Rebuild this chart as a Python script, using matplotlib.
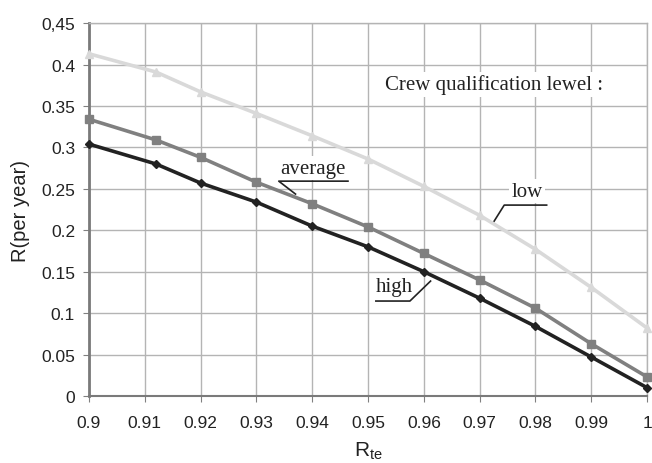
import matplotlib
matplotlib.use("Agg")
import matplotlib.pyplot as plt

# R_te values (second point sits slightly right of 0.91 in the source)
r_te = [0.9, 0.912, 0.92, 0.93, 0.94, 0.95, 0.96, 0.97, 0.98, 0.99, 1.0]

# R (per year) by crew qualification level
low = [0.413, 0.391, 0.367, 0.341, 0.314, 0.286, 0.253, 0.218, 0.177, 0.131, 0.082]
average = [0.334, 0.309, 0.288, 0.258, 0.232, 0.204, 0.172, 0.140, 0.106, 0.063, 0.023]
high = [0.304, 0.280, 0.257, 0.234, 0.205, 0.180, 0.150, 0.118, 0.084, 0.047, 0.010]

x_ticks = [0.9, 0.91, 0.92, 0.93, 0.94, 0.95, 0.96, 0.97, 0.98, 0.99, 1.0]
x_labels = ["0.9", "0.91", "0.92", "0.93", "0.94", "0.95", "0.96", "0.97", "0.98", "0.99", "1"]
y_ticks = [0, 0.05, 0.1, 0.15, 0.2, 0.25, 0.3, 0.35, 0.4, 0.45]
y_labels = ["0", "0.05", "0.1", "0.15", "0.2", "0.25", "0.3", "0.35", "0.4", "0,45"]

sans = "Liberation Sans"
serif = "Liberation Serif"

fig = plt.figure(figsize=(6.52, 4.64), dpi=100)
ax = fig.add_axes([0.1365, 0.1444, 0.856, 0.8036])

ax.plot(r_te, low, color="#d9d9d9", lw=2.6, marker="^", ms=6, zorder=3, clip_on=False)
ax.plot(r_te, average, color="#808080", lw=2.6, marker="s", ms=6, zorder=4, clip_on=False)
ax.plot(r_te, high, color="#222222", lw=2.6, marker="D", ms=4.5, zorder=5, clip_on=False)

ax.set_xlim(0.9, 1.0)
ax.set_ylim(0, 0.45)
ax.set_xticks(x_ticks)
ax.set_xticklabels(x_labels, fontfamily=sans, fontsize=12.5, color="#222222")
ax.set_yticks(y_ticks)
ax.set_yticklabels(y_labels, fontfamily=sans, fontsize=12.5, color="#222222")
ax.tick_params(direction="out", length=4, color="#808080")
ax.tick_params(axis="x", pad=10)
ax.tick_params(axis="y", pad=6)
ax.grid(True, color="#b4b4b4", lw=1)
ax.set_axisbelow(True)
for side in ["top", "right"]:
    ax.spines[side].set_color("#b4b4b4")
    ax.spines[side].set_linewidth(1)
ax.spines["left"].set_color("#7a7a7a")
ax.spines["left"].set_linewidth(2)
ax.spines["bottom"].set_color("#7a7a7a")
ax.spines["bottom"].set_linewidth(1.5)

ax.set_ylabel("R(per year)", fontfamily=sans, fontsize=14.5, labelpad=8, color="#222222")
ax.set_xlabel(r"$\mathregular{R_{te}}$", fontfamily=sans, fontsize=15, labelpad=7,
              color="#222222")

box = dict(facecolor="white", edgecolor="none", pad=2)
fs = 15

ax.text(0.9726, 0.376, "Crew qualification lewel :", fontfamily=serif, fontsize=fs,
        ha="center", va="center", bbox=box, zorder=6, color="#222222")

# average label with leader
ax.text(0.9402, 0.275, "average", fontfamily=serif, fontsize=fs, ha="center", va="center",
        bbox=box, zorder=6, color="#222222")
ax.plot([0.9464, 0.934, 0.937], [0.2593, 0.2593, 0.2437], color="#222222", lw=1.2, zorder=7)

# high label with leader
ax.text(0.9548, 0.1327, "high", fontfamily=serif, fontsize=fs, ha="center", va="center",
        bbox=box, zorder=6, color="#222222")
ax.plot([0.9514, 0.9575, 0.9612], [0.1146, 0.1146, 0.1387], color="#222222", lw=1.2, zorder=7)

# low label with leader
ax.text(0.9785, 0.2473, "low", fontfamily=serif, fontsize=fs, ha="center", va="center",
        bbox=box, zorder=6, color="#222222")
ax.plot([0.982, 0.9744, 0.9726], [0.2304, 0.2304, 0.2111], color="#222222", lw=1.2, zorder=7)

fig.savefig("out.png", dpi=100)
plt.close(fig)
